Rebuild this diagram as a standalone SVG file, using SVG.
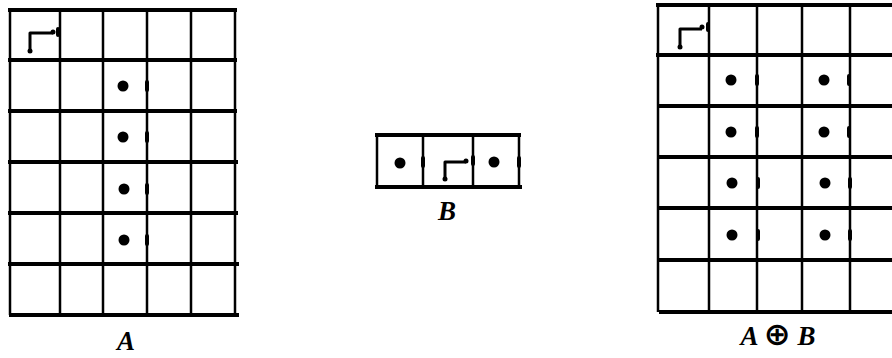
<svg xmlns="http://www.w3.org/2000/svg" width="892" height="358" viewBox="0 0 892 358">
<style>
.h{stroke:#000;stroke-width:4;fill:none;stroke-linecap:square}
.v{stroke:#000;stroke-width:2.5;fill:none}
.t{stroke:#000;stroke-width:4;stroke-linecap:round}
.c{stroke:#000;stroke-width:3;fill:none;stroke-linejoin:round}
.d{fill:#000}
.lbl{font-family:"Liberation Serif",serif;font-weight:bold;font-style:italic;font-size:27px;fill:#000;text-anchor:middle}
.op{font-family:"DejaVu Sans",sans-serif;font-style:normal;font-weight:bold;font-size:32px}
</style>
<rect width="892" height="358" fill="#fff"/>
<g id="gridA">
<path class="h" d="M10 10H235M10 60H235M10 111H235M10 162H236M10 213H236M10 264H237M11 315H237"/>
<path class="v" d="M10 10V315M60 10V315M103 10V315M147 10V315M191 10V315M235 10V315"/>
<path class="t" d="M147 82V90M147 133V141M147 185V193M147 236V244M58 29V35"/>
<path class="c" d="M30 51V33H53"/>
<circle class="d" cx="30" cy="51" r="2.5"/><circle class="d" cx="53" cy="32" r="2.5"/>
<circle class="d" cx="123" cy="86" r="5.5"/><circle class="d" cx="123" cy="137" r="5.5"/>
<circle class="d" cx="124" cy="189" r="5.5"/><circle class="d" cx="124" cy="240" r="5.5"/>
<text class="lbl" x="126" y="350">A</text>
</g>
<g id="gridB">
<path class="h" d="M377 135H519M377 187H520"/>
<path class="v" d="M377 135V187M423 135V187M473 135V187M519 135V187"/>
<path class="t" d="M423 158V166M473 157V164M519 158V166"/>
<path class="c" d="M445 179V162H466"/>
<circle class="d" cx="445" cy="179" r="2.5"/><circle class="d" cx="466" cy="161" r="2.5"/>
<circle class="d" cx="400" cy="163" r="5.5"/><circle class="d" cx="494" cy="162" r="5.5"/>
<text class="lbl" x="447" y="220">B</text>
</g>
<g id="gridAB">
<path class="h" d="M658 5H896M658 55H896M659 106H896M659 157H896M660 208H896M660 260H896M661 312H896"/>
<path class="v" d="M658 5V312M709 5V312M757 5V312M802 5V312M850 5V312"/>
<path class="t" d="M757 76V84M757 128V136M758 179V187M758 231V239M849 76V84M849 128V136M850 179V187M850 231V239M708 24V30"/>
<path class="c" d="M680 47V29H702"/>
<circle class="d" cx="680" cy="47" r="2.5"/><circle class="d" cx="702" cy="27" r="2.5"/>
<circle class="d" cx="731" cy="80" r="5.5"/><circle class="d" cx="824" cy="80" r="5.5"/>
<circle class="d" cx="731" cy="132" r="5.5"/><circle class="d" cx="824" cy="132" r="5.5"/>
<circle class="d" cx="732" cy="183" r="5.5"/><circle class="d" cx="825" cy="183" r="5.5"/>
<circle class="d" cx="732" cy="235" r="5.5"/><circle class="d" cx="825" cy="235" r="5.5"/>
<text class="lbl" x="778" y="345">A <tspan class="op">⊕</tspan> B</text>
</g>
</svg>
